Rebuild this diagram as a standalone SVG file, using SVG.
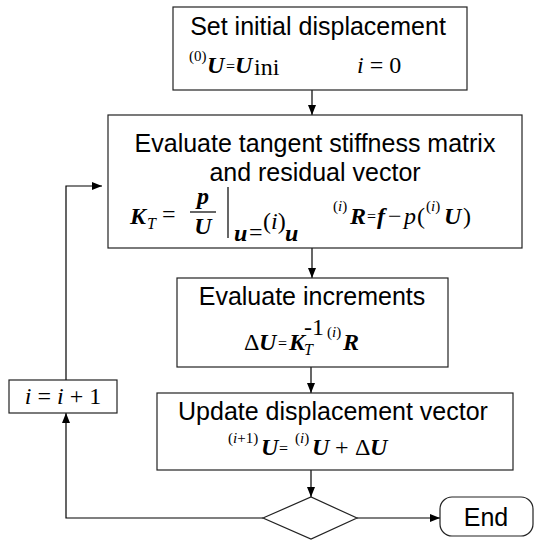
<svg xmlns="http://www.w3.org/2000/svg" width="535" height="540" viewBox="0 0 535 540">
<defs>
<marker id="ah" viewBox="0 0 10 8" refX="10" refY="4" markerWidth="10" markerHeight="8" markerUnits="userSpaceOnUse" orient="auto"><path d="M0,0 L10,4 L0,8 Z" fill="#000"/></marker>
</defs>
<style>
.box{fill:#fff;stroke:#222;stroke-width:1.2}
.t{font-family:"Liberation Sans",Arial,sans-serif;font-size:25px;fill:#000;text-anchor:middle}
.m{font-family:"Liberation Serif","Times New Roman",serif;font-size:24px;fill:#000}
.b{font-weight:bold;font-style:italic}
.i{font-style:italic}
.s{font-size:15px}
.e{font-size:16px}
.c{fill:none;stroke:#000;stroke-width:1.2}
.a{marker-end:url(#ah)}
</style>
<g id="connectors">
<path class="c a" d="M312,90 V115"/>
<path class="c a" d="M312,248 V278"/>
<path class="c a" d="M311,367 V393"/>
<path class="c a" d="M311,470 V497"/>
<path class="c a" d="M357,518 H440"/>
<path class="c a" d="M263,518 H66 V413"/>
<path class="c a" d="M66,380 V186 H102"/>
</g>
<g id="n1">
<rect class="box" x="173" y="7" width="294" height="83"/>
<text class="t" x="318" y="35">Set initial displacement</text>
<text class="m s" x="189" y="61">(0)</text>
<text class="m b" x="207" y="73">U</text>
<text class="m e" x="226" y="72">=</text>
<text class="m b" x="235" y="73">U</text>
<text class="m" x="254" y="75" font-size="18">ini</text>
<text class="m" x="357" y="73"><tspan class="i">i</tspan> = 0</text>
</g>
<g id="n2">
<rect class="box" x="108" y="115" width="414" height="133"/>
<text class="t" x="315" y="152">Evaluate tangent stiffness matrix</text>
<text class="t" x="315" y="181">and residual vector</text>
<text class="m b" x="130" y="224">K</text>
<text class="m i e" x="147" y="229">T</text>
<text class="m" x="162" y="222">=</text>
<text class="m b" x="203" y="204" text-anchor="middle">p</text>
<path class="c" d="M190,212 H216"/>
<text class="m b" x="203" y="234" text-anchor="middle">U</text>
<path class="c" d="M228,187 V238"/>
<text class="m b" x="234" y="241" font-size="18">u</text>
<text class="m" x="249" y="240" font-size="18">=</text>
<text class="m" x="263" y="229" font-size="13">(<tspan class="i">i</tspan>)</text>
<text class="m b" x="285" y="241" font-size="18">u</text>
<text class="m s" x="333" y="211">(<tspan class="i">i</tspan>)</text>
<text class="m b" x="350" y="224">R</text>
<text class="m e" x="367" y="222">=</text>
<text class="m b" x="377" y="224">f</text>
<text class="m" x="388" y="224">−</text>
<text class="m i" x="404" y="224">p</text>
<text class="m" x="417" y="224">(</text>
<text class="m s" x="426" y="211">(<tspan class="i">i</tspan>)</text>
<text class="m b" x="444" y="224">U</text>
<text class="m" x="463" y="224">)</text>
</g>
<g id="n3">
<rect class="box" x="177" y="278" width="271" height="89"/>
<text class="t" x="312" y="305">Evaluate increments</text>
<text class="m" x="244" y="350">Δ</text>
<text class="m b" x="259" y="350">U</text>
<text class="m e" x="278" y="349">=</text>
<text class="m b" x="289" y="350">K</text>
<text class="m i e" x="304" y="355">T</text>
<text class="m" x="304" y="335" font-size="13">-1</text>
<text class="m s" x="327" y="337">(<tspan class="i">i</tspan>)</text>
<text class="m b" x="343" y="350">R</text>
</g>
<g id="n4">
<rect class="box" x="157" y="393" width="356" height="77"/>
<text class="t" x="333" y="420">Update displacement vector</text>
<text class="m s" x="228" y="443">(<tspan class="i">i</tspan>+1)</text>
<text class="m b" x="261" y="455">U</text>
<text class="m e" x="279" y="454">=</text>
<text class="m s" x="295" y="443">(<tspan class="i">i</tspan>)</text>
<text class="m b" x="312" y="455">U</text>
<text class="m" x="335" y="455">+</text>
<text class="m" x="355" y="455">Δ</text>
<text class="m b" x="370" y="455">U</text>
</g>
<g id="n5">
<rect class="box" x="9" y="380" width="108" height="33"/>
<text class="m" x="63" y="404" text-anchor="middle"><tspan class="i">i</tspan> = <tspan class="i">i</tspan> + 1</text>
</g>
<g id="n6">
<polygon class="box" points="263,518 311,497 357,518 311,539"/>
</g>
<g id="n7">
<rect class="box" x="440" y="497" width="93" height="39" rx="12"/>
<text class="t" x="486" y="526">End</text>
</g>
</svg>
